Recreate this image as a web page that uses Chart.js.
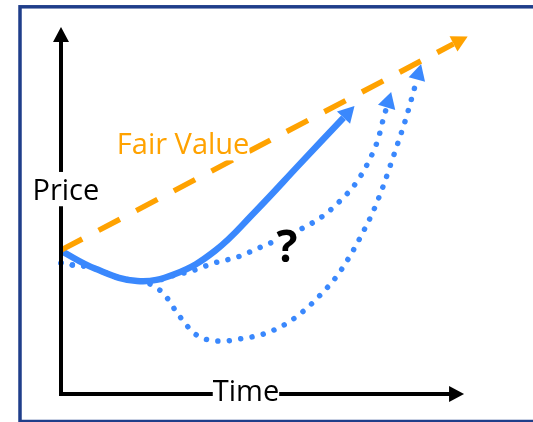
<!DOCTYPE html>
<html>
<head>
<meta charset="utf-8">
<script src="https://cdn.jsdelivr.net/npm/chart.js@4.4.1/dist/chart.umd.min.js"></script>
<style>
  body { margin: 0; background: #fff; }
  canvas { display: block; }
</style>
</head>
<body>
<canvas id="chart" width="533" height="422"></canvas>
<script>
// time runs 0..100 along the x axis, price 0..100 up the y axis
const yAxisTime = [0, 0]
const yAxisPrice = [0, 95.9]
const xAxisTime = [0, 96.3]
const xAxisPrice = [0, 0]

const fairTime = [0, 97.4]
const fairPrice = [39.2, 95.4]

const actualTime = [0, 8.4, 18.9, 28.3, 38.2, 48.1, 59.3, 70.1]
const actualPrice = [39.0, 34.2, 30.8, 32.7, 39.0, 49.6, 62.7, 75.3]

const slowTime = [0, 3.2, 7.2, 14.6, 18.9, 23.3, 26.6, 32.3, 38.0, 43.7, 49.1, 60.0, 65.0, 69.7, 73.4, 76.4, 78.7, 80.1, 80.8]
const slowPrice = [35.7, 35.1, 34.6, 31.6, 30.8, 30.8, 31.9, 33.5, 35.7, 37.3, 39.8, 45.2, 48.5, 53.1, 57.8, 63.5, 69.5, 75.5, 78.1]

const crashTime = [0, 3.2, 7.2, 14.6, 18.9, 21.6, 23.3, 25.6, 29.0, 33.0, 35.7, 40.0, 44.4, 50.1, 55.8, 60.5, 64.8, 68.5, 71.7, 74.7, 77.4, 79.7, 81.6, 83.6, 85.4, 87.1, 88.3]
const crashPrice = [35.7, 35.1, 34.6, 31.6, 30.8, 30.2, 29.2, 27.2, 21.8, 16.6, 15.0, 14.4, 15.0, 16.3, 19.1, 22.9, 27.5, 32.2, 37.6, 43.6, 49.6, 55.9, 61.9, 68.4, 74.4, 80.9, 85.7]

const labelText = ['Fair Value', 'Price', 'Time', '?']
const labelTime = [30.3, 1.2, 45.9, 56.1]
const labelPrice = [65.4, 52.9, -1.9, 36.0]

const BLUE = '#3a88fd'
const ORANGE = '#ffa200'

function points(times, prices) {
  return times.map((t, i) => ({x: t, y: prices[i]}))
}

const frame = {
  id: 'frame',
  beforeDraw(chart) {
    const ctx = chart.ctx
    ctx.save()
    ctx.fillStyle = '#fff'
    ctx.fillRect(0, 0, chart.width, chart.height)
    ctx.strokeStyle = '#1f3e8a'
    ctx.lineWidth = 3.5
    ctx.strokeRect(20, 6.8, 600, 414.7)
    ctx.restore()
  }
}

// arrow head at the end of a dataset, pointing along the end tangent
const arrows = {
  id: 'arrows',
  afterDatasetDraw(chart, args) {
    const ds = chart.data.datasets[args.index]
    if (!ds.arrow) return
    const pts = args.meta.data
    const end = pts[pts.length - 1]
    let fx = end.cp1x, fy = end.cp1y
    if (fx === undefined || Math.hypot(fx - end.x, fy - end.y) < 0.5) {
      fx = pts[pts.length - 2].x
      fy = pts[pts.length - 2].y
    }
    let dx = end.x - fx, dy = end.y - fy
    const d = Math.hypot(dx, dy)
    dx /= d
    dy /= d
    const L = ds.arrow.length, W = ds.arrow.width / 2
    const ctx = chart.ctx
    ctx.save()
    ctx.fillStyle = ds.borderColor
    ctx.beginPath()
    ctx.moveTo(end.x + dx * L, end.y + dy * L)
    ctx.lineTo(end.x - dy * W, end.y + dx * W)
    ctx.lineTo(end.x + dy * W, end.y - dx * W)
    ctx.closePath()
    ctx.fill()
    ctx.restore()
  }
}

const labels = {
  id: 'labels',
  afterDatasetsDraw(chart) {
    const ctx = chart.ctx
    const colors = [ORANGE, '#000', '#000', '#000']
    const fonts = ['29px "Open Sans"', '29px "Open Sans"', '29px "Open Sans"', 'bold 44px "Open Sans"']
    ctx.save()
    ctx.textAlign = 'center'
    ctx.textBaseline = 'alphabetic'
    labelText.forEach((text, i) => {
      const x = chart.scales.x.getPixelForValue(labelTime[i])
      const y = chart.scales.y.getPixelForValue(labelPrice[i])
      ctx.font = fonts[i]
      const m = ctx.measureText(text)
      ctx.fillStyle = '#fff'
      ctx.fillRect(x - m.width / 2, y - m.fontBoundingBoxAscent * 0.9, m.width, m.fontBoundingBoxAscent * 0.9 + m.fontBoundingBoxDescent * 0.8)
      ctx.fillStyle = colors[i]
      ctx.fillText(text, x, y)
    })
    ctx.restore()
  }
}

const dotted = {
  borderColor: BLUE,
  borderWidth: 5.5,
  borderDash: [0.01, 11.5],
  borderCapStyle: 'round',
  cubicInterpolationMode: 'monotone',
}

new Chart(document.getElementById('chart'), {
  type: 'line',
  data: {
    datasets: [
      {
        data: points(yAxisTime, yAxisPrice),
        borderColor: '#000',
        borderWidth: 4,
        borderCapStyle: 'square',
        arrow: {length: 15, width: 16},
        order: 0,
      },
      {
        data: points(xAxisTime, xAxisPrice),
        borderColor: '#000',
        borderWidth: 4,
        borderCapStyle: 'square',
        arrow: {length: 15, width: 16},
        order: 0,
      },
      {
        data: points(fairTime, fairPrice),
        borderColor: ORANGE,
        borderWidth: 5.5,
        borderDash: [24, 18.5],
        arrow: {length: 16, width: 17},
        order: 1,
      },
      {
        data: points(actualTime, actualPrice),
        borderColor: BLUE,
        borderWidth: 6.5,
        tension: 0.4,
        arrow: {length: 16, width: 18},
        order: 2,
      },
      Object.assign({data: points(slowTime, slowPrice), arrow: {length: 16, width: 18}, order: 3}, dotted),
      Object.assign({data: points(crashTime, crashPrice), arrow: {length: 16, width: 17}, order: 4}, dotted),
    ]
  },
  options: {
    responsive: false,
    animation: false,
    events: [],
    layout: {padding: {left: 61, right: 69, top: 27, bottom: 28}},
    elements: {point: {radius: 0}},
    datasets: {line: {clip: false, fill: false}},
    plugins: {legend: {display: false}, tooltip: {enabled: false}},
    scales: {
      x: {type: 'linear', min: 0, max: 100, display: false},
      y: {type: 'linear', min: 0, max: 100, display: false},
    }
  },
  plugins: [frame, arrows, labels]
})
</script>
</body>
</html>
